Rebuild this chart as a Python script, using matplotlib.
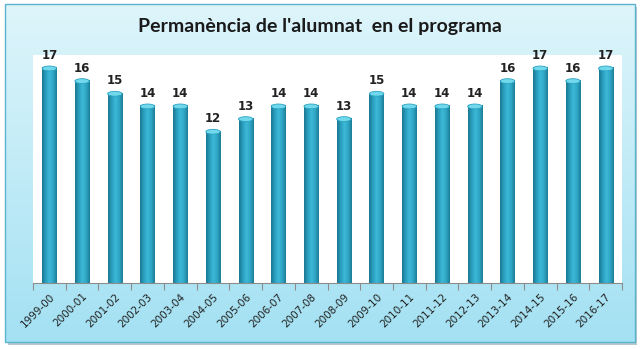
import numpy as np
import matplotlib.pyplot as plt
from matplotlib.patches import Rectangle, Ellipse
from matplotlib.colors import LinearSegmentedColormap

cursos = ['1999-00', '2000-01', '2001-02', '2002-03', '2003-04', '2004-05',
          '2005-06', '2006-07', '2007-08', '2008-09', '2009-10', '2010-11',
          '2011-12', '2012-13', '2013-14', '2014-15', '2015-16', '2016-17']
alumnes = [17, 16, 15, 14, 14, 12, 13, 14, 14, 13, 15, 14, 14, 14, 16, 17, 16, 17]

fig = plt.figure(figsize=(6.4, 3.49), dpi=100)

# fons amb degradat
bg = fig.add_axes([0, 0, 1, 1])
bg.set_xlim(0, 1)
bg.set_ylim(0, 1)
bg.axis('off')
bg_cmap = LinearSegmentedColormap.from_list('bg', ['#a3e1f3', '#def5fb'])
grad = np.linspace(0, 1, 256).reshape(-1, 1)
bg.imshow(grad, cmap=bg_cmap, extent=(0.008, 0.992, 0.02, 0.988),
          origin='lower', aspect='auto', zorder=1)
bg.add_patch(Rectangle((0.012, 0.012), 0.984, 0.968, facecolor='#b8c8cc',
                       edgecolor='none', zorder=0))
bg.add_patch(Rectangle((0.008, 0.02), 0.984, 0.968, facecolor='none',
                       edgecolor='#5ab5cc', lw=1.0, zorder=2))

fig.text(0.5, 0.925, "Permanència de l'alumnat  en el programa",
         ha='center', va='center', fontsize=14, fontweight='bold',
         family='Lato', color='#1a1a1a')

ax = fig.add_axes([0.0516, 0.189, 0.9204, 0.653])
ax.set_facecolor('white')

bar_cmap = LinearSegmentedColormap.from_list(
    'bar', ['#1b7790', '#2a9fbf', '#3db8d6', '#2fa6c5', '#1c7d97'])
hgrad = np.linspace(0, 1, 64).reshape(1, -1)
w = 0.44
x = np.arange(len(cursos))
for xi, v in zip(x, alumnes):
    ax.imshow(hgrad, cmap=bar_cmap, extent=(xi - w / 2, xi + w / 2, 0, v),
              aspect='auto', zorder=2)
    ax.add_patch(Ellipse((xi, v - 0.05), w, 0.38, facecolor='#72d9ec',
                         edgecolor='#2aa3c2', lw=0.6, zorder=3))
    ax.text(xi, v + 0.45, str(v), ha='center', va='bottom', fontsize=8.5,
            fontweight='bold', color='#222222')

ax.set_xlim(-0.5, len(cursos) - 0.5)
ax.set_ylim(0, 18)
ax.set_yticks([])
ax.set_xticks(x)
ax.set_xticklabels(cursos, rotation=45, ha='right', rotation_mode='anchor',
                   fontsize=7.5, color='#222222')
ax.tick_params(axis='x', which='major', length=0, pad=6)
ax.set_xticks(np.arange(-0.5, len(cursos)), minor=True)
ax.tick_params(axis='x', which='minor', length=5, color='#8c8c8c', width=0.8)
for s in ['top', 'right', 'left']:
    ax.spines[s].set_visible(False)
ax.spines['bottom'].set_color('#8c8c8c')
ax.spines['bottom'].set_linewidth(0.8)

fig.savefig('out.png', dpi=100)
